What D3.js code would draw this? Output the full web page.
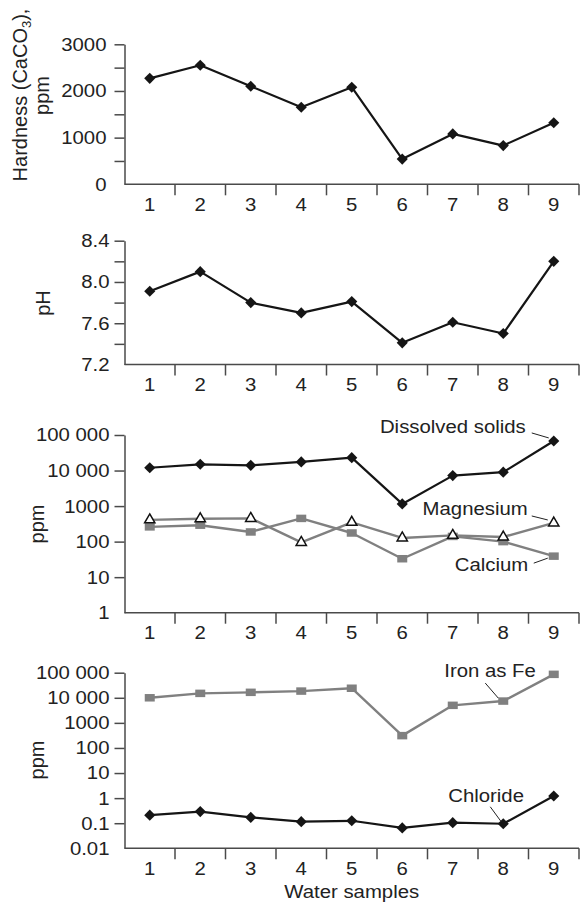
<!DOCTYPE html>
<html>
<head>
<meta charset="utf-8">
<script src="https://cdn.jsdelivr.net/npm/d3@7"></script>
<style>
  body { margin: 0; background: #fff; }
  text { font-family: "Liberation Sans", Arial, Helvetica, sans-serif; fill: #222; }
</style>
</head>
<body>
<div id="chart"></div>
<script>
// data
const samples = [1, 2, 3, 4, 5, 6, 7, 8, 9];
const hardness = [2270, 2550, 2100, 1650, 2080, 540, 1080, 830, 1320];
const ph = [7.91, 8.10, 7.80, 7.70, 7.81, 7.41, 7.61, 7.50, 8.20];
const dissolved = [12000, 15000, 14000, 17500, 23000, 1150, 7200, 9000, 68000];
const magnesium = [410, 440, 450, 95, 350, 127, 150, 135, 335];
const calcium = [260, 290, 187, 450, 175, 33, 140, 100, 39];
const iron = [10000, 15000, 16500, 18500, 24000, 310, 5000, 7400, 86000];
const chloride = [0.21, 0.29, 0.17, 0.115, 0.125, 0.065, 0.105, 0.095, 1.22];

const hardTicks = [0, 500, 1000, 1500, 2000, 2500, 3000];
const phTicks = [7.2, 7.4, 7.6, 7.8, 8.0, 8.2, 8.4];
const logTicks3 = [1, 10, 100, 1000, 10000, 100000];
const logTicks4 = [0.01, 0.1, 1, 10, 100, 1000, 10000, 100000];

const width = 583;
const height = 902;
const FS = 18.5;     // font size of horizontal text
const SX = 1.1;      // the picture's text is a bit wide
const RFS = 20;      // rotated axis titles
const axisColor = '#4a4a4a';
const black = '#151515';
const gray = '#808080';

const svg = d3.select('#chart')
  .append('svg')
  .attr('width', width)
  .attr('height', height);

const x = d3.scaleBand().domain(samples).range([124.5, 579]);
const cx = s => x(s) + x.bandwidth() / 2;

const logFmt = d => d >= 10000 ? d3.format(',')(d).replace(/,/g, ' ') : String(d);

// one panel: y axis, band x axis with ticks on the band edges
function drawAxes(y, ticks, fmt, pad) {
  const x0 = x.range()[0];
  const yBottom = y.range()[0];

  const ya = svg.append('g')
    .attr('transform', `translate(${x0},0)`)
    .call(d3.axisLeft(y).tickValues(ticks).tickFormat(fmt).tickSize(10).tickSizeOuter(0).tickPadding(pad));
  ya.select('.domain').attr('stroke', axisColor).attr('stroke-width', 1.5);
  ya.selectAll('.tick line').attr('stroke', axisColor).attr('stroke-width', 1.5)
    .filter(d => d === ticks[0]).remove();
  ya.selectAll('.tick text')
    .attr('x', null)
    .attr('transform', `translate(${-(10 + pad)},0) scale(${SX},1)`)
    .style('font-size', FS + 'px')
    .style('fill', '#222');

  const xa = svg.append('g')
    .attr('transform', `translate(0,${yBottom})`)
    .call(d3.axisBottom(x).tickSize(0).tickSizeOuter(0));
  xa.select('.domain').remove();
  xa.selectAll('.tick text')
    .attr('y', null).attr('dy', null)
    .attr('transform', `translate(0,26.5) scale(${SX},1)`)
    .style('font-size', FS + 'px')
    .style('fill', '#222');

  xa.append('line')
    .attr('x1', x0).attr('x2', x.range()[1])
    .attr('stroke', axisColor).attr('stroke-width', 1.5);
  xa.selectAll('line.edge')
    .data(samples)
    .join('line')
    .attr('class', 'edge')
    .attr('x1', d => x(d) + x.bandwidth())
    .attr('x2', d => x(d) + x.bandwidth())
    .attr('y1', 0).attr('y2', 11)
    .attr('stroke', axisColor).attr('stroke-width', 1.5);
}

function drawLine(y, values, color, w) {
  svg.append('path')
    .datum(values)
    .attr('fill', 'none')
    .attr('stroke', color)
    .attr('stroke-width', w)
    .attr('stroke-linejoin', 'round')
    .attr('d', d3.line().x((d, i) => cx(samples[i])).y(d => y(d)));
}

function diamonds(y, values) {
  svg.append('g').selectAll('path')
    .data(values)
    .join('path')
    .attr('transform', (d, i) => `translate(${cx(samples[i])},${y(d)}) rotate(45)`)
    .attr('d', d3.symbol().type(d3.symbolSquare).size(62))
    .attr('fill', black);
}

function squares(y, values) {
  svg.append('g').selectAll('rect')
    .data(values)
    .join('rect')
    .attr('x', (d, i) => cx(samples[i]) - 5)
    .attr('y', d => y(d) - 3.75)
    .attr('width', 10)
    .attr('height', 7.5)
    .attr('fill', gray);
}

function triangles(y, values) {
  svg.append('g').selectAll('path')
    .data(values)
    .join('path')
    .attr('transform', (d, i) => `translate(${cx(samples[i])},${y(d)})`)
    .attr('d', d3.symbol().type(d3.symbolTriangle).size(46))
    .attr('fill', '#fff')
    .attr('stroke', '#111')
    .attr('stroke-width', 1.5);
}

function rotLabel(build, bx, cy) {
  const t = svg.append('text')
    .attr('transform', `translate(${bx},${cy}) rotate(-90)`)
    .attr('text-anchor', 'middle')
    .style('font-size', RFS + 'px');
  build(t);
}

// label with a leader line, placed relative to a data point
function note(px, py, text, anchor, tx, ty, l1, l2) {
  svg.append('text')
    .attr('transform', `translate(${px + tx},${py + ty}) scale(${SX},1)`)
    .attr('text-anchor', anchor)
    .style('font-size', FS + 'px')
    .text(text);
  svg.append('line')
    .attr('x1', px + l1[0]).attr('y1', py + l1[1])
    .attr('x2', px + l2[0]).attr('y2', py + l2[1])
    .attr('stroke', '#222').attr('stroke-width', 1);
}

// 1. Hardness
const y1 = d3.scaleLinear().domain([0, 3000]).range([184.3, 44.3]);
drawAxes(y1, hardTicks, d => d % 1000 === 0 ? d : '', 8);
drawLine(y1, hardness, black, 2.2);
diamonds(y1, hardness);
rotLabel(t => {
  t.append('tspan').text('Hardness (CaCO');
  t.append('tspan').attr('dy', 4).style('font-size', '13px').text('3');
  t.append('tspan').attr('dy', -4).text('),');
}, 27, 95);
rotLabel(t => t.text('ppm'), 49, 95.5);

// 2. pH
const y2 = d3.scaleLinear().domain([7.2, 8.4]).range([364.5, 240.7]);
drawAxes(y2, phTicks, d => [7.2, 7.6, 8.0, 8.4].some(v => Math.abs(v - d) < 1e-6) ? d3.format('.1f')(d) : '', 5);
drawLine(y2, ph, black, 2.2);
diamonds(y2, ph);
rotLabel(t => t.text('pH'), 50, 303);

// 3. Dissolved solids, magnesium, calcium
const y3 = d3.scaleLog().domain([1, 100000]).range([612.7, 435]);
drawAxes(y3, logTicks3, logFmt, 5);
drawLine(y3, calcium, gray, 2.4);
drawLine(y3, magnesium, gray, 2.4);
squares(y3, calcium);
triangles(y3, magnesium);
drawLine(y3, dissolved, black, 2.2);
diamonds(y3, dissolved);
rotLabel(t => t.text('ppm'), 44, 524);
note(cx(9), y3(dissolved[8]), 'Dissolved solids', 'end', -28, -7.5, [-22, -8], [-5, -3]);
note(cx(9), y3(magnesium[8]), 'Magnesium', 'end', -26, -8, [-22, -7], [-6, -3]);
note(cx(9), y3(calcium[8]), 'Calcium', 'end', -25.5, 14.5, [-20, 7], [-6, 2]);

// 4. Iron and chloride
const y4 = d3.scaleLog().domain([0.01, 100000]).range([848.3, 672.7]);
drawAxes(y4, logTicks4, logFmt, 5);
drawLine(y4, iron, gray, 2.4);
squares(y4, iron);
drawLine(y4, chloride, black, 2.2);
diamonds(y4, chloride);
rotLabel(t => t.text('ppm'), 44, 760);
note(cx(8), y4(iron[7]), 'Iron as Fe', 'start', -59, -24, [-18, -18], [-5, -3]);
note(cx(8), y4(chloride[7]), 'Chloride', 'start', -55, -22, [-13, -17], [-2, -2]);

svg.append('text')
  .attr('transform', `translate(${(x.range()[0] + x.range()[1]) / 2},898) scale(${SX},1)`)
  .attr('text-anchor', 'middle')
  .style('font-size', FS + 'px')
  .text('Water samples');
</script>
</body>
</html>
